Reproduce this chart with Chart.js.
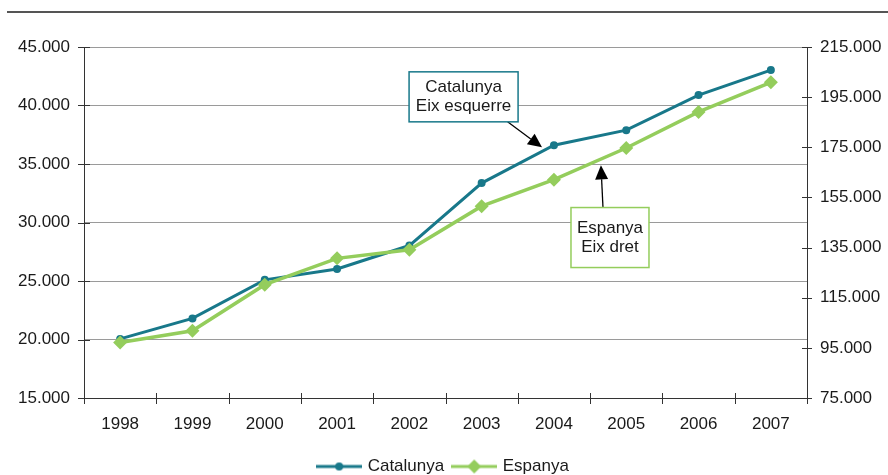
<!DOCTYPE html>
<html>
<head>
<meta charset="utf-8">
<script src="https://cdn.jsdelivr.net/npm/chart.js@4.4.1/dist/chart.umd.min.js"></script>
<style>
  html, body { margin: 0; padding: 0; background: #ffffff; }
  #wrap { width: 888px; height: 475px; }
</style>
</head>
<body>
<div id="wrap"><canvas id="c" width="888" height="475"></canvas></div>
<script>
// ---- data ----
const years = ['1998', '1999', '2000', '2001', '2002', '2003', '2004', '2005', '2006', '2007'];
const catalunya = [20050, 21800, 25100, 26030, 28030, 33370, 36600, 37890, 40890, 43030];
const espanya = [97100, 101800, 120200, 130700, 134100, 151500, 162100, 174700, 189100, 200900];
const leftTicks = [15000, 20000, 25000, 30000, 35000, 40000, 45000];
const rightTicks = [75000, 95000, 115000, 135000, 155000, 175000, 195000, 215000];
const seriesNames = ['Catalunya', 'Espanya'];
const noteCat = ['Catalunya', 'Eix esquerre'];
const noteEsp = ['Espanya', 'Eix dret'];

// ---- styles ----
const TEAL = '#18788A';
const GREEN = '#94CD5C';
const FONT = '"Liberation Sans", Arial, Helvetica, sans-serif';
const TXT = '#1a1a1a';

function fmt(v) { return String(v).replace(/\B(?=(\d{3})+(?!\d))/g, '.'); }

function legendImg(color, kind) {
  const c = document.createElement('canvas');
  c.width = 46; c.height = 16;
  const g = c.getContext('2d');
  g.strokeStyle = color; g.lineWidth = 3;
  g.beginPath(); g.moveTo(0, 8); g.lineTo(46, 8); g.stroke();
  g.fillStyle = color;
  if (kind === 'circle') {
    g.beginPath(); g.arc(23, 8, 4, 0, Math.PI * 2); g.fill();
  } else {
    g.beginPath(); g.moveTo(23, 1); g.lineTo(30, 8); g.lineTo(23, 15); g.lineTo(16, 8); g.closePath(); g.fill();
  }
  return c;
}
const legendImgs = [legendImg(TEAL, 'circle'), legendImg(GREEN, 'diamond')];

// annotation anchors in data coordinates
const notes = [
  { lines: noteCat, axis: 'y', color: TEAL, cx: 4.75, cy: 40740, w: 109, h: 50,
    from: [44, 25], tipX: 5.835, tipY: 36430 },
  { lines: noteEsp, axis: 'y1', color: GREEN, cx: 6.775, cy: 139000, w: 78, h: 60,
    from: [-7, -30], tipX: 6.65, tipY: 167800 }
];

const topRule = {
  id: 'topRule',
  beforeDraw(chart) {
    const ctx = chart.ctx;
    ctx.save();
    ctx.strokeStyle = '#555'; ctx.lineWidth = 2;
    ctx.beginPath(); ctx.moveTo(7, 12); ctx.lineTo(888, 12); ctx.stroke();
    ctx.restore();
  }
};

const crossTicks = {
  id: 'crossTicks',
  afterDraw(chart) {
    const ctx = chart.ctx;
    const { left, right, bottom } = chart.chartArea;
    const yL = chart.scales.y, yR = chart.scales.y1, xs = chart.scales.x;
    ctx.save();
    ctx.strokeStyle = '#333'; ctx.lineWidth = 1;
    ctx.beginPath();
    yL.ticks.forEach(t => { const p = Math.round(yL.getPixelForValue(t.value)) + 0.5; ctx.moveTo(left - 6, p); ctx.lineTo(left + 6, p); });
    yR.ticks.forEach(t => { const p = Math.round(yR.getPixelForValue(t.value)) + 0.5; ctx.moveTo(right - 5, p); ctx.lineTo(right + 5, p); });
    for (let i = 0; i <= years.length; i++) {
      const p = Math.round(xs.getPixelForValue(i - 0.5)) + 0.5;
      ctx.moveTo(p, bottom - 5); ctx.lineTo(p, bottom + 6);
    }
    ctx.stroke();
    ctx.restore();
  }
};

const callouts = {
  id: 'callouts',
  afterDatasetsDraw(chart) {
    const ctx = chart.ctx;
    const xs = chart.scales.x;
    ctx.save();
    notes.forEach(n => {
      const ys = chart.scales[n.axis];
      const cx = xs.getPixelForValue(n.cx), cy = ys.getPixelForValue(n.cy);
      const x0 = cx - n.w / 2, y0 = cy - n.h / 2;
      // arrow
      const sx = cx + n.from[0], sy = cy + n.from[1];
      const tx = xs.getPixelForValue(n.tipX), ty = ys.getPixelForValue(n.tipY);
      const ang = Math.atan2(ty - sy, tx - sx);
      const L = 14, W = 6.5;
      const bx = tx - L * Math.cos(ang), by = ty - L * Math.sin(ang);
      ctx.strokeStyle = '#000'; ctx.lineWidth = 1.3;
      ctx.beginPath(); ctx.moveTo(sx, sy); ctx.lineTo(bx, by); ctx.stroke();
      ctx.fillStyle = '#000';
      ctx.beginPath();
      ctx.moveTo(tx, ty);
      ctx.lineTo(bx + W * Math.sin(ang), by - W * Math.cos(ang));
      ctx.lineTo(bx - W * Math.sin(ang), by + W * Math.cos(ang));
      ctx.closePath(); ctx.fill();
      // box
      ctx.fillStyle = '#fff';
      ctx.fillRect(x0, y0, n.w, n.h);
      ctx.strokeStyle = n.color; ctx.lineWidth = 1.5;
      ctx.strokeRect(x0, y0, n.w, n.h);
      ctx.fillStyle = TXT;
      ctx.font = '17px ' + FONT;
      ctx.textAlign = 'center'; ctx.textBaseline = 'middle';
      const lh = 19;
      n.lines.forEach((t, i) => {
        ctx.fillText(t, cx, cy + (i - (n.lines.length - 1) / 2) * lh);
      });
    });
    ctx.restore();
  }
};

new Chart(document.getElementById('c'), {
  type: 'line',
  data: {
    labels: years,
    datasets: [
      {
        label: seriesNames[0], data: catalunya, yAxisID: 'y', order: 1,
        borderColor: TEAL, backgroundColor: TEAL, borderWidth: 3,
        pointStyle: 'circle', pointRadius: 4, pointBackgroundColor: TEAL, pointBorderColor: TEAL,
        pointBorderWidth: 0, tension: 0
      },
      {
        label: seriesNames[1], data: espanya, yAxisID: 'y1', order: 0,
        borderColor: GREEN, backgroundColor: GREEN, borderWidth: 3.5,
        pointStyle: 'rectRot', pointRadius: 7, pointBackgroundColor: GREEN, pointBorderColor: GREEN,
        pointBorderWidth: 0, tension: 0
      }
    ]
  },
  options: {
    responsive: false,
    animation: false,
    layout: { padding: { top: 47, left: 0, right: 0, bottom: -10 } },
    plugins: {
      tooltip: { enabled: false },
      legend: {
        position: 'bottom',
        labels: {
          usePointStyle: true,
          pointStyleWidth: 40,
          padding: 10,
          color: TXT,
          font: { family: FONT, size: 17 },
          sort: (a, b) => a.datasetIndex - b.datasetIndex,
          generateLabels(chart) {
            const items = Chart.defaults.plugins.legend.labels.generateLabels(chart);
            items.forEach(it => { it.pointStyle = legendImgs[it.datasetIndex]; it.lineWidth = 0; });
            return items;
          }
        }
      }
    },
    scales: {
      x: {
        type: 'category',
        offset: true,
        grid: { display: false, drawTicks: false },
        border: { display: true, color: '#333', width: 1 },
        ticks: { color: TXT, font: { family: FONT, size: 17 }, padding: 16, maxRotation: 0, autoSkip: false },
        afterFit(s) { s.height = 50; }
      },
      y: {
        position: 'left',
        min: leftTicks[0], max: leftTicks[leftTicks.length - 1],
        afterBuildTicks(s) { s.ticks = leftTicks.map(v => ({ value: v })); },
        grid: { color: '#9a9a9a', lineWidth: 1, drawTicks: false },
        border: { display: true, color: '#333', width: 1 },
        ticks: { color: TXT, font: { family: FONT, size: 17 }, padding: 14, callback: v => fmt(v) },
        afterFit(s) { s.width = 84; }
      },
      y1: {
        position: 'right',
        min: rightTicks[0], max: rightTicks[rightTicks.length - 1],
        afterBuildTicks(s) { s.ticks = rightTicks.map(v => ({ value: v })); },
        grid: { drawOnChartArea: false, drawTicks: false },
        border: { display: true, color: '#333', width: 1 },
        ticks: { color: TXT, font: { family: FONT, size: 17 }, padding: 13, callback: v => fmt(v) },
        afterFit(s) { s.width = 81; }
      }
    }
  },
  plugins: [topRule, crossTicks, callouts]
});
</script>
</body>
</html>
